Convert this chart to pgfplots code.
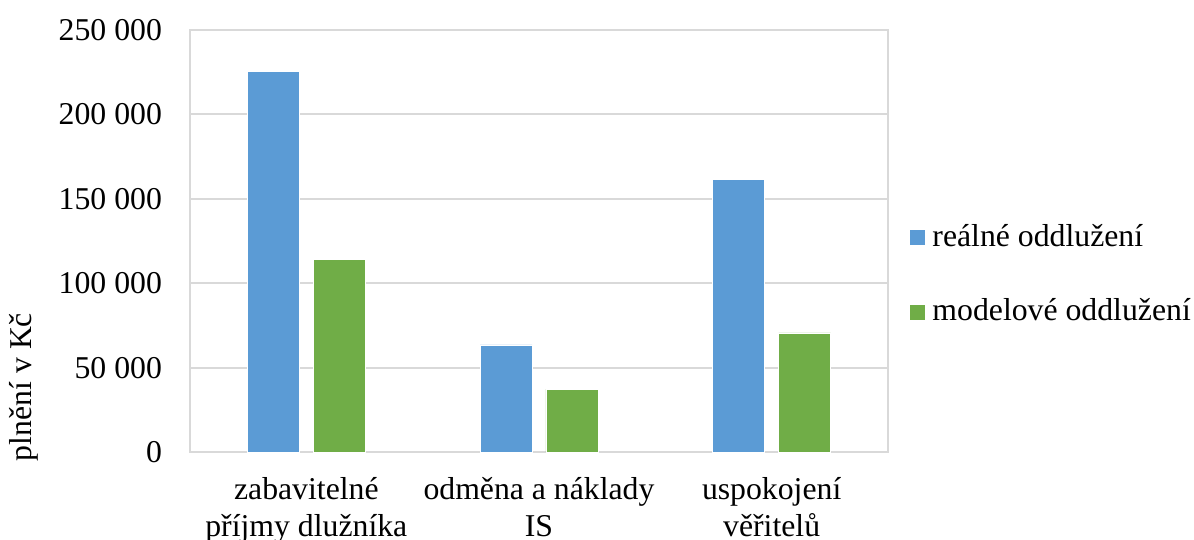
\documentclass[border=0pt]{standalone}
\usepackage{pgfplots}
\pgfplotsset{compat=1.18}
\usepackage{fontspec}
\setmainfont{Liberation Serif}

\definecolor{realblue}{HTML}{5B9BD5}
\definecolor{modelgreen}{HTML}{70AD47}
\definecolor{gridgray}{HTML}{D9D9D9}

\begin{document}
\fontsize{12.7}{14.5}\selectfont
\begin{tikzpicture}
\begin{axis}[
    name=ax,
    scale only axis,
    width=279.2pt,
    height=168.8pt,
    xmin=-0.5, xmax=2.5,
    ymin=0, ymax=250000,
    scaled y ticks=false,
    ytick={0,50000,100000,150000,200000,250000},
    yticklabels={0,50 000,100 000,150 000,200 000,250 000},
    xtick=data,
    xticklabels={{zabavitelné\\příjmy dlužníka},{odměna a náklady\\IS},{uspokojení\\věřitelů}},
    xticklabel style={align=center, yshift=-5.8pt, font=\fontsize{12.7}{14.8}\selectfont},
    yticklabel style={xshift=-6.8pt},
    major tick length=0pt,
    axis line style={gridgray, line width=0.8pt},
    ymajorgrids,
    grid style={gridgray, line width=0.8pt},
    ylabel={plnění v Kč},
    ylabel style={at={(rel axis cs:-0.238,0.154)}, anchor=center},
    legend style={at={(1.03,0.42)}, anchor=west, draw=none, fill=none,
        inner sep=0pt, row sep=15pt, font=\fontsize{12.7}{14.5}\selectfont,
        nodes={inner xsep=2.5pt}},
    legend cell align=left,
    legend image code/.code={\fill[#1] (0pt,-3.2pt) rectangle (6.4pt,3.2pt);},
    clip=false,
]
\addplot[ybar, bar width=0.2235, bar shift=-0.1418, fill=realblue, draw=white, line width=0.3pt]
    coordinates {(0,225300) (1,63400) (2,161600)};
\addplot[ybar, bar width=0.2235, bar shift=0.1418, fill=modelgreen, draw=white, line width=0.3pt]
    coordinates {(0,114200) (1,37300) (2,70500)};
\legend{reálné oddlužení, modelové oddlužení}
\coordinate (sw) at (rel axis cs:0,0);
\coordinate (ne) at (rel axis cs:1,1);
\end{axis}
\pgfresetboundingbox
\path[use as bounding box] ([shift={(-76pt,-35.2pt)}]sw) rectangle ([shift={(122.4pt,12pt)}]ne);
\end{tikzpicture}
\end{document}
